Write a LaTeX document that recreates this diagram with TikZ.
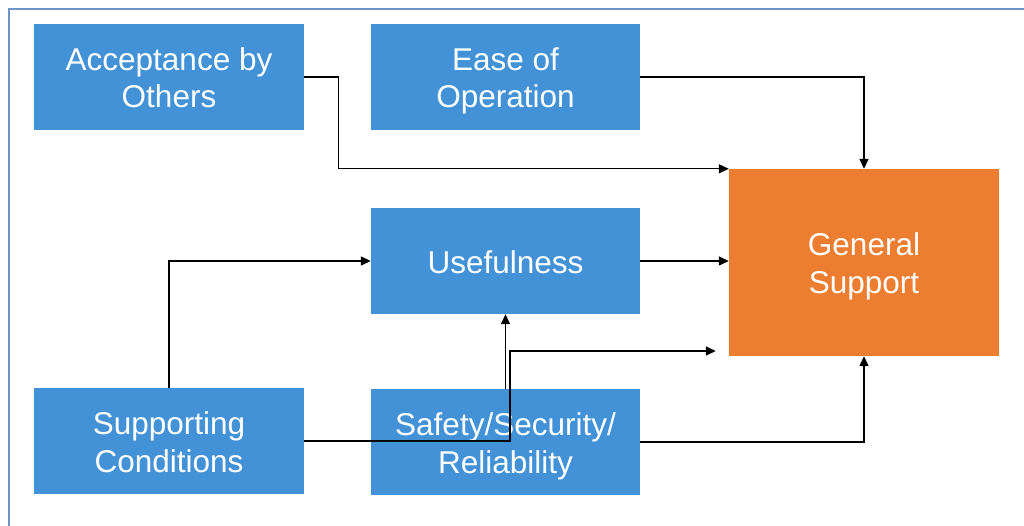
\documentclass[tikz,border=0pt]{standalone}
\usepackage{fontspec}
\setmainfont{Liberation Sans}
\usetikzlibrary{arrows.meta}
\definecolor{boxblue}{HTML}{4391D6}
\definecolor{boxorange}{HTML}{ED7D31}
\definecolor{framecol}{HTML}{6A95C8}
% every text line gets the same height and no depth, so lines sit alike in each box
\newcommand\boxline[1]{\raisebox{0pt}[24.5bp][0pt]{#1}}
\tikzset{
  factor/.style={rectangle, fill=boxblue, text=white, inner sep=0pt,
    minimum width=270bp, minimum height=106bp, align=center,
    font=\fontsize{31.5bp}{37.5bp}\selectfont},
  outcome/.style={factor, fill=boxorange, minimum height=187bp},
  arr/.style={draw=black, line width=1.4bp,
    -{Triangle[length=10bp,width=9bp]}}
}
\begin{document}
\begin{tikzpicture}[x=1bp, y=-1bp]
  \useasboundingbox (0,0) rectangle (1024,526);
  % outer frame, open towards the right and bottom
  \draw[framecol, line width=2bp] (8.5,540) -- (8.5,9.5) -- (1040,9.5);

  % factors
  \node[factor] (acc) at (169,77)    {\boxline{Acceptance by}\\\boxline{Others}};
  \node[factor, minimum width=269bp] (ease) at (505.5,77)  {\boxline{Ease of}\\\boxline{Operation}};
  \node[factor, minimum width=269bp] (use)  at (505.5,261) {\boxline{Usefulness}};
  \node[factor] (sup) at (169,441)   {\boxline{Supporting}\\\boxline{Conditions}};
  \node[factor, minimum width=269bp] (saf)  at (505.5,442) {\boxline{Safety/Security/}\\\boxline{Reliability}};
  \node[outcome] (gen) at (864,262.5) {\boxline{General}\\\boxline{Support}};

  % connectors
  \draw[arr] (acc.east) -- ++(34,0) |- (gen.north west);
  \draw[arr] (ease.east) -| (gen.north);
  \draw[arr] (use.east) -- (gen.west |- use.east);
  \draw[arr] (sup.north) |- (use.west);
  \coordinate (bend) at (510,351);
  \draw[arr, shorten >=13bp] (sup.east) -| (bend) -- (bend -| gen.west);
  \draw[arr] (saf.north) -- (use.south);
  \draw[arr] (saf.east) -| (gen.south);
\end{tikzpicture}
\end{document}
